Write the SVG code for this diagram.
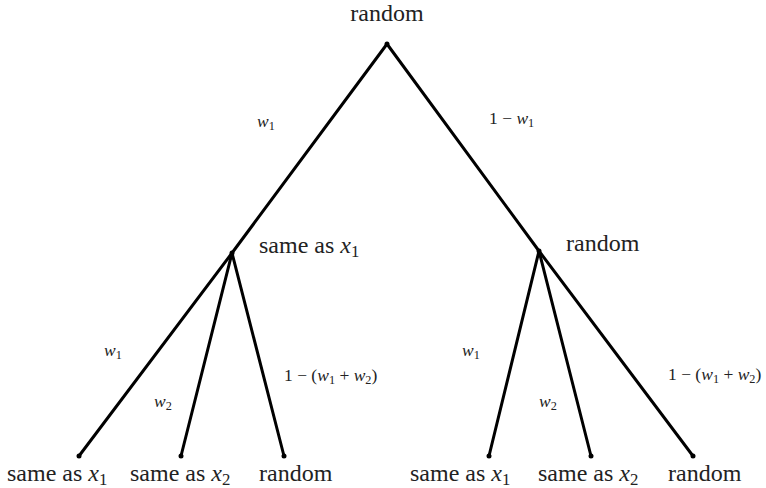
<svg xmlns="http://www.w3.org/2000/svg" width="766" height="488" viewBox="0 0 766 488">
<style>
.edge{stroke:#000;stroke-width:3;stroke-linecap:round;fill:none}
.dot{fill:#000}
.node{font-family:"Liberation Serif","Times New Roman",serif;font-size:24px;fill:#222}
.lbl{font-family:"Liberation Serif","Times New Roman",serif;font-size:17.5px;fill:#222}
.m{font-style:italic}
.sub{font-size:0.7em}
</style>
<rect width="766" height="488" fill="#fff"/>
<g id="connectors">
<line class="edge" x1="387" y1="44" x2="232" y2="253"/>
<line class="edge" x1="387" y1="44" x2="539" y2="251"/>
<line class="edge" x1="232" y1="253" x2="79" y2="456"/>
<line class="edge" x1="232" y1="253" x2="181" y2="456"/>
<line class="edge" x1="232" y1="253" x2="284" y2="456"/>
<line class="edge" x1="539" y1="251" x2="489" y2="456"/>
<line class="edge" x1="539" y1="251" x2="591" y2="456"/>
<line class="edge" x1="539" y1="251" x2="693" y2="456"/>
<text class="lbl" x="257" y="127"><tspan class="m">w</tspan><tspan class="sub" dy="3">1</tspan></text>
<text class="lbl" x="489" y="124">1 − <tspan class="m">w</tspan><tspan class="sub" dy="3">1</tspan></text>
<text class="lbl" x="104" y="356"><tspan class="m">w</tspan><tspan class="sub" dy="3">1</tspan></text>
<text class="lbl" x="154" y="407"><tspan class="m">w</tspan><tspan class="sub" dy="3">2</tspan></text>
<text class="lbl" x="284" y="381">1 − (<tspan class="m">w</tspan><tspan class="sub" dy="3">1</tspan><tspan dy="-3"> + </tspan><tspan class="m">w</tspan><tspan class="sub" dy="3">2</tspan><tspan dy="-3">)</tspan></text>
<text class="lbl" x="462" y="356"><tspan class="m">w</tspan><tspan class="sub" dy="3">1</tspan></text>
<text class="lbl" x="539" y="407"><tspan class="m">w</tspan><tspan class="sub" dy="3">2</tspan></text>
<text class="lbl" x="668" y="380">1 − (<tspan class="m">w</tspan><tspan class="sub" dy="3">1</tspan><tspan dy="-3"> + </tspan><tspan class="m">w</tspan><tspan class="sub" dy="3">2</tspan><tspan dy="-3">)</tspan></text>
</g>
<g id="root"><circle class="dot" cx="387" cy="44" r="2.5"/><text class="node" x="387" y="21" text-anchor="middle">random</text></g>
<g id="midL"><circle class="dot" cx="232" cy="253" r="2.5"/><text class="node" x="259" y="253">same as <tspan class="m">x</tspan><tspan class="sub" dy="4">1</tspan></text></g>
<g id="midR"><circle class="dot" cx="539" cy="251" r="2.5"/><text class="node" x="566" y="251">random</text></g>
<g id="leaf1"><circle class="dot" cx="79" cy="456" r="2.5"/><text class="node" x="7" y="481">same as <tspan class="m">x</tspan><tspan class="sub" dy="4">1</tspan></text></g>
<g id="leaf2"><circle class="dot" cx="181" cy="456" r="2.5"/><text class="node" x="130" y="481">same as <tspan class="m">x</tspan><tspan class="sub" dy="4">2</tspan></text></g>
<g id="leaf3"><circle class="dot" cx="284" cy="456" r="2.5"/><text class="node" x="259" y="481">random</text></g>
<g id="leaf4"><circle class="dot" cx="489" cy="456" r="2.5"/><text class="node" x="410" y="481">same as <tspan class="m">x</tspan><tspan class="sub" dy="4">1</tspan></text></g>
<g id="leaf5"><circle class="dot" cx="591" cy="456" r="2.5"/><text class="node" x="538" y="481">same as <tspan class="m">x</tspan><tspan class="sub" dy="4">2</tspan></text></g>
<g id="leaf6"><circle class="dot" cx="693" cy="456" r="2.5"/><text class="node" x="668" y="481">random</text></g>
</svg>
